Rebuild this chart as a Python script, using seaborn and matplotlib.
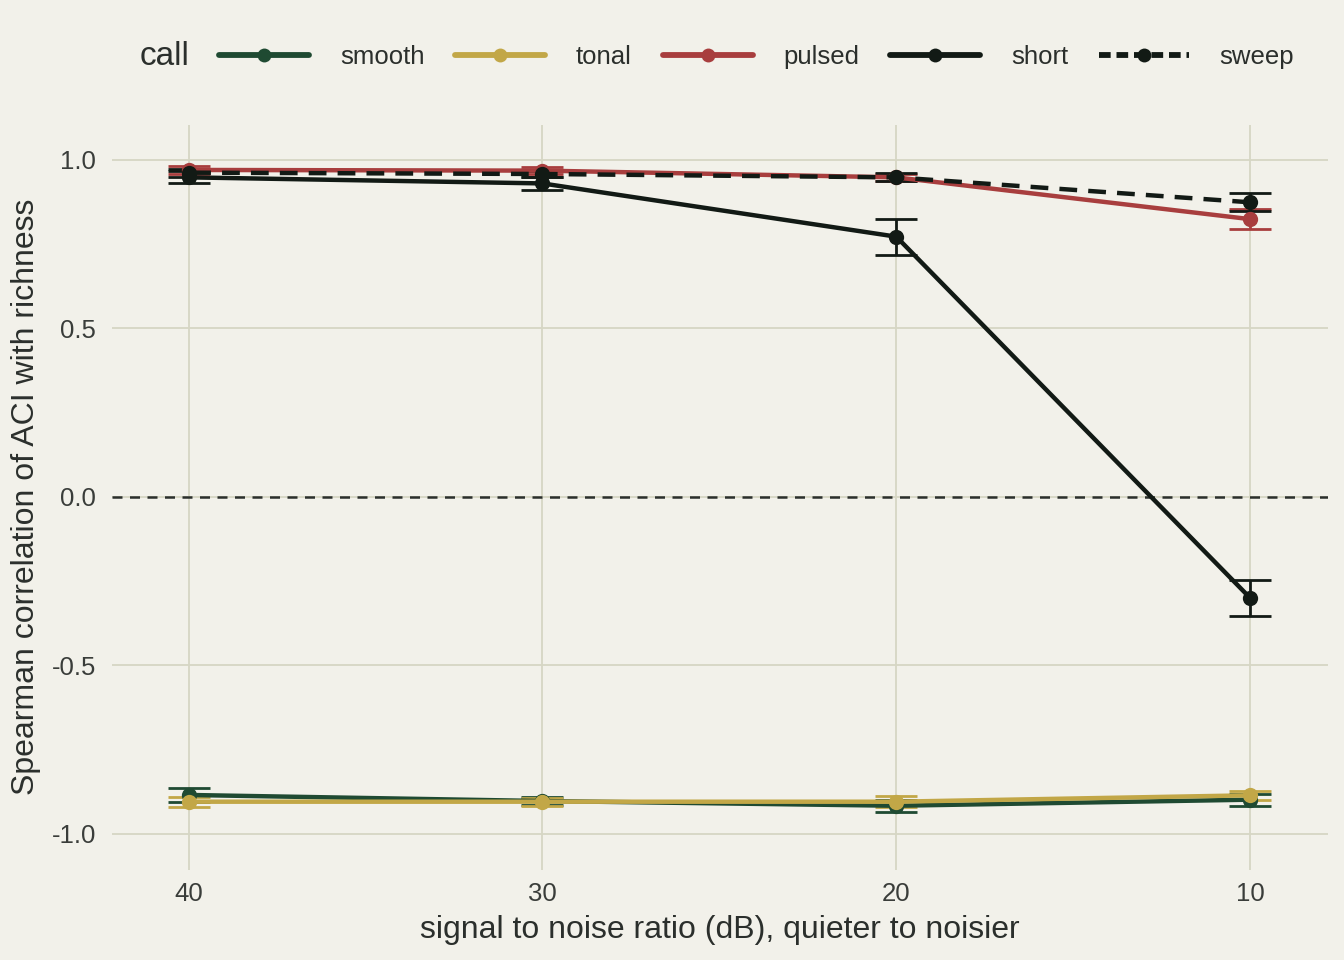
import pandas as pd
import matplotlib
matplotlib.use('Agg')
import matplotlib.pyplot as plt
import seaborn as sns
from matplotlib.lines import Line2D

# Data
snr = [40, 30, 20, 10]
calls = ['smooth', 'tonal', 'pulsed', 'short', 'sweep']
smooth = [-0.885, -0.903, -0.917, -0.899]
tonal = [-0.905, -0.905, -0.905, -0.886]
pulsed = [0.970, 0.968, 0.948, 0.824]
short = [0.948, 0.930, 0.772, -0.300]
sweep = [0.962, 0.958, 0.948, 0.874]
smooth_err = [0.020, 0.012, 0.018, 0.018]
tonal_err = [0.015, 0.012, 0.016, 0.014]
pulsed_err = [0.012, 0.010, 0.010, 0.030]
short_err = [0.018, 0.020, 0.053, 0.053]
sweep_err = [0.012, 0.010, 0.012, 0.027]

palette = {'smooth': '#1f4a32', 'tonal': '#c2a747', 'pulsed': '#a83e3e',
           'short': '#121a15', 'sweep': '#121a15'}
bg = '#f2f1ea'
grid_col = '#d6d6c4'
text_col = '#2b2f2c'

values = {'smooth': smooth, 'tonal': tonal, 'pulsed': pulsed, 'short': short, 'sweep': sweep}
errors = {'smooth': smooth_err, 'tonal': tonal_err, 'pulsed': pulsed_err,
          'short': short_err, 'sweep': sweep_err}

rows = []
for c in calls:
    for s, v, e in zip(snr, values[c], errors[c]):
        rows.append({'snr': s, 'rho': v, 'err': e, 'call': c})
df = pd.DataFrame(rows)

sns.set_theme(style='whitegrid')
plt.rcParams['font.family'] = ['Liberation Sans', 'DejaVu Sans']

fig, ax = plt.subplots(figsize=(13.44, 9.6), dpi=100)
fig.patch.set_facecolor(bg)
ax.set_facecolor(bg)

ax.axhline(0, color='#2b2f2c', lw=1.8, ls=(0, (4, 3)), zorder=1)

for c in calls:
    d = df[df['call'] == c]
    ls = '--' if c == 'sweep' else '-'
    ax.errorbar(d['snr'], d['rho'], yerr=d['err'], fmt='none', ecolor=palette[c],
                elinewidth=2, capsize=15, capthick=2, zorder=2)
    sns.lineplot(data=d, x='snr', y='rho', color=palette[c], lw=3.2, ax=ax,
                 marker='o', markersize=11, markeredgewidth=0, linestyle=ls,
                 legend=False, zorder=3)
    if c == 'sweep':
        ax.lines[-1].set_dashes((4, 2.5))

ax.set_xlim(42.18, 7.8)
ax.set_ylim(-1.107, 1.104)
ax.set_xticks(snr)
ax.set_yticks([-1.0, -0.5, 0.0, 0.5, 1.0])
ax.set_yticklabels(['-1.0', '-0.5', '0.0', '0.5', '1.0'])
ax.grid(True, color=grid_col, lw=1.3)
for sp in ax.spines.values():
    sp.set_visible(False)
ax.tick_params(axis='both', labelsize=18.5, colors='#3a3d3a', length=0)
ax.tick_params(axis='y', pad=11)
ax.tick_params(axis='x', pad=9)
ax.set_xlabel('signal to noise ratio (dB), quieter to noisier', fontsize=23,
              color=text_col, labelpad=6)
ax.set_ylabel('Spearman correlation of ACI with richness', fontsize=23,
              color=text_col, labelpad=8)

handles = []
for c in calls:
    h = Line2D([], [], color=palette[c], lw=4.2, marker='o', markersize=10,
               markeredgewidth=0, linestyle='--' if c == 'sweep' else '-')
    if c == 'sweep':
        h.set_dashes((2.0, 1.0))
    handles.append(h)
fig.text(0.104, 0.941, 'call', fontsize=24, color=text_col, va='center')
leg = fig.legend(handles, calls, loc='center left', bbox_to_anchor=(0.163, 0.941),
                 ncol=5, frameon=False, fontsize=18.5, handlelength=3.5,
                 handletextpad=1.2, columnspacing=1.2, borderaxespad=0,
                 borderpad=0)
for t in leg.get_texts():
    t.set_color(text_col)

plt.subplots_adjust(left=0.083, right=0.988, top=0.870, bottom=0.094)
plt.savefig('out.png', dpi=100, facecolor=bg)
